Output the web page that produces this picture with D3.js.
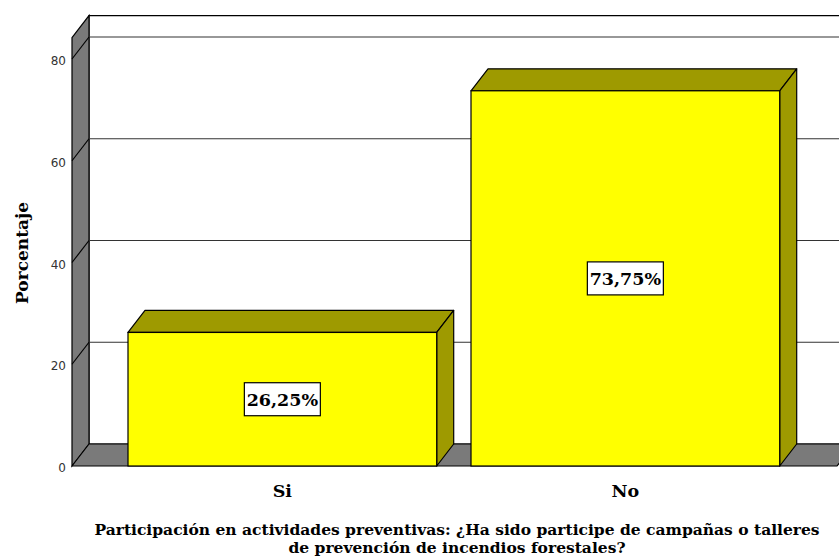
<!DOCTYPE html>
<html><head><meta charset="utf-8">
<script src="https://cdn.jsdelivr.net/npm/d3@7/dist/d3.min.js"></script>
<style>body{margin:0;background:#fff;}svg{display:block;}</style>
</head><body>
<svg id="c" width="839" height="558"></svg>
<script>
const categories = ["Si", "No"];
const values = [26.25, 73.75];
const valueLabels = ["26,25%", "73,75%"];
const yTicks = [0, 20, 40, 60, 80];
const yTitle = "Porcentaje";
const xTitle = ["Participación en actividades preventivas: ¿Ha sido participe de campañas o talleres", "de prevención de incendios forestales?"];

const SERIF = "'DejaVu Serif', serif";
const SANS = "'DejaVu Sans', sans-serif";
const svg = d3.select("#c");
const dx = 17, dy = -22;
const y = d3.scaleLinear().domain([0, 80]).range([466, 59]);
const yTop = 84.2;
const x = d3.scaleBand().domain(categories).range([110.85, 796.85]).paddingInner(0.1).paddingOuter(0.05);
const xL = 72, xR = 837;

const poly = pts => pts.map(p => p.join(",")).join(" ");

// back wall
svg.append("polygon").attr("points", poly([[xL+dx, y(yTop)+dy],[xR+dx+20, y(yTop)+dy],[xR+dx+20, y(0)+dy],[xL+dx, y(0)+dy]]))
  .attr("fill", "#fff").attr("stroke", "#000").attr("stroke-width", 1.2);
// left side wall
svg.append("polygon").attr("points", poly([[xL, y(yTop)],[xL+dx, y(yTop)+dy],[xL+dx, y(0)+dy],[xL, y(0)]]))
  .attr("fill", "#7a7a7a").attr("stroke", "#000").attr("stroke-width", 1.2);
// floor
svg.append("polygon").attr("points", poly([[xL, y(0)],[xL+dx, y(0)+dy],[xR+dx, y(0)+dy],[xR, y(0)]]))
  .attr("fill", "#7a7a7a").attr("stroke", "#000").attr("stroke-width", 1.2);

// gridlines
yTicks.filter(t => t > 0).forEach(t => {
  svg.append("line").attr("x1", xL+dx).attr("x2", xR+dx+20).attr("y1", y(t)+dy).attr("y2", y(t)+dy)
    .attr("stroke", "#333").attr("stroke-width", 1.2);
  svg.append("line").attr("x1", xL).attr("x2", xL+dx).attr("y1", y(t)).attr("y2", y(t)+dy)
    .attr("stroke", "#000").attr("stroke-width", 1.2);
});

// y tick labels
svg.selectAll(".yt").data(yTicks).enter().append("text")
  .attr("x", 66).attr("y", d => y(d) + 2).attr("dy", "0.35em").attr("text-anchor", "end")
  .attr("font-family", SANS).attr("font-size", 12).attr("fill", "#333")
  .text(d => d);

// bars
const data = categories.map((c, i) => ({c, v: values[i], l: valueLabels[i]}));
data.forEach(d => {
  const x0 = x(d.c), x1 = x0 + x.bandwidth(), yt = y(d.v), yb = y(0);
  const g = svg.append("g");
  g.append("polygon").attr("points", poly([[x0, yt],[x0+dx, yt+dy],[x1+dx, yt+dy],[x1, yt]]))
    .attr("fill", "#9e9a00").attr("stroke", "#000").attr("stroke-width", 1.2).attr("stroke-linejoin", "round");
  g.append("polygon").attr("points", poly([[x1, yt],[x1+dx, yt+dy],[x1+dx, yb+dy],[x1, yb]]))
    .attr("fill", "#9e9a00").attr("stroke", "#000").attr("stroke-width", 1.2).attr("stroke-linejoin", "round");
  g.append("rect").attr("x", x0).attr("y", yt).attr("width", x1 - x0).attr("height", yb - yt)
    .attr("fill", "#ffff00").attr("stroke", "#000").attr("stroke-width", 1.2);
  const cx = x0 + (x1 - x0) / 2, cy = (yt + yb) / 2;
  g.append("rect").attr("x", cx - 38).attr("y", cy - 16.5).attr("width", 76).attr("height", 33)
    .attr("fill", "#fff").attr("stroke", "#000").attr("stroke-width", 1.2);
  g.append("text").attr("x", cx).attr("y", cy).attr("dy", "0.38em").attr("text-anchor", "middle")
    .attr("font-family", SERIF).attr("font-weight", "bold").attr("font-size", 17.5)
    .attr("fill", "#000").text(d.l);
});

// x category labels
svg.selectAll(".xc").data(categories).enter().append("text")
  .attr("x", d => x(d) + x.bandwidth() / 2).attr("y", 497).attr("text-anchor", "middle")
  .attr("font-family", SERIF).attr("font-weight", "bold").attr("font-size", 17.5)
  .text(d => d);

// y title
svg.append("text").attr("transform", "translate(28,253) rotate(-90)").attr("text-anchor", "middle")
  .attr("font-family", SERIF).attr("font-weight", "bold").attr("font-size", 17)
  .text(yTitle);

// x title
xTitle.forEach((s, i) => {
  svg.append("text").attr("x", 457).attr("y", 535 + i * 18).attr("text-anchor", "middle")
    .attr("font-family", SERIF).attr("font-weight", "bold").attr("font-size", 15.5)
    .text(s);
});
</script>
</body></html>
